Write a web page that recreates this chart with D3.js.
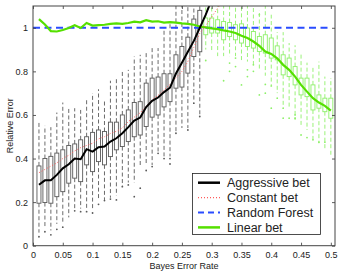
<!DOCTYPE html>
<html>
<head>
<meta charset="utf-8">
<script src="https://cdn.jsdelivr.net/npm/d3@7"></script>
<style>
body { margin:0; background:white; }
svg text { font-family:"Liberation Sans", Arial, sans-serif; fill:#222; }
</style>
</head>
<body>
<svg id="chart"></svg>
<script>
// x positions (Bayes error rate)
var rates = [0.01,0.02,0.03,0.04,0.05,0.06,0.07,0.08,0.09,0.10,
             0.11,0.12,0.13,0.14,0.15,0.16,0.17,0.18,0.19,0.20,
             0.21,0.22,0.23,0.24,0.25,0.26,0.27,0.28,0.29,0.30,
             0.31,0.32,0.33,0.34,0.35,0.36,0.37,0.38,0.39,0.40,
             0.41,0.42,0.43,0.44,0.45,0.46,0.47,0.48,0.49,0.50];

// series lines
var aggressive = [0.28,0.30,0.30,0.325,0.355,0.374,0.40,0.397,0.443,0.432,
                  0.452,0.455,0.478,0.493,0.516,0.544,0.574,0.588,0.636,0.665,
                  0.68,0.705,0.725,0.79,0.84,0.89,0.94,1.0,1.06,1.13];
var constant = [0.335,0.35,0.365,0.38,0.40,0.415,0.435,0.45,0.46,0.47,
                0.49,0.50,0.515,0.525,0.54,0.57,0.59,0.61,0.64,0.67,
                0.69,0.715,0.74,0.77,0.80,0.845,0.91,0.975,1.01,1.05,
                1.09,1.13];
var forestX = [0, 0.5];
var forestY = [1, 1];
var linear = [1.04,1.015,0.985,0.983,0.99,0.999,1.012,0.999,1.022,1.01,
              1.012,1.014,1.018,1.02,1.018,1.022,1.028,1.025,1.035,1.028,
              1.03,1.024,1.026,1.024,1.02,1.018,1.014,1.006,1.002,0.997,
              0.994,0.988,0.983,0.976,0.963,0.953,0.937,0.917,0.891,0.88,
              0.86,0.83,0.807,0.776,0.738,0.707,0.677,0.657,0.642,0.62];

// boxplots of the aggressive bet (0.01 - 0.28)
var aggQ1 = [0.195,0.198,0.195,0.225,0.248,0.287,0.31,0.294,0.371,0.34,
             0.386,0.371,0.409,0.44,0.455,0.478,0.50,0.508,0.547,0.59,
             0.60,0.637,0.661,0.723,0.728,0.792,0.868,0.89];
var aggQ3 = [0.366,0.40,0.41,0.425,0.44,0.46,0.467,0.486,0.50,0.52,
             0.531,0.524,0.567,0.567,0.60,0.623,0.657,0.661,0.746,0.769,
             0.774,0.789,0.789,0.876,0.914,0.957,1.04,1.08];
var aggLo = [0.06,0.08,0.07,0.10,0.10,0.13,0.17,0.17,0.17,0.17,
             0.21,0.21,0.22,0.23,0.27,0.29,0.29,0.36,0.37,0.37,
             0.43,0.41,0.41,0.52,0.54,0.54,0.66,0.60];
var aggHi = [0.573,0.55,0.544,0.611,0.657,0.639,0.631,0.623,0.677,0.70,
             0.718,0.672,0.757,0.764,0.802,0.807,0.868,0.876,0.884,0.91,
             0.907,1.0,1.02,1.12,1.12,1.12,1.12,1.12];
var aggOutX = [0.01,0.02,0.03,0.04,0.05,0.07,0.08,0.09,0.10,0.11,0.12,0.13,0.14,
               0.15,0.16,0.17,0.18,0.19,0.20,0.21,0.22,0.23,0.23,0.24,0.26,0.27,0.28];
var aggOutY = [0.041,0.064,0.05,0.075,0.085,0.16,0.156,0.156,0.15,0.19,0.207,0.214,0.21,
               0.271,0.279,0.225,0.264,0.345,0.363,0.424,0.40,0.40,0.375,0.516,0.531,0.654,0.593];

// boxplots of the linear bet (0.29 - 0.50)
var linQ1 = [0.968,0.976,0.976,0.945,0.96,0.945,0.93,0.914,0.907,0.891,0.884,
             0.861,0.853,0.784,0.776,0.738,0.692,0.684,0.623,0.631,0.615,0.585];
var linQ3 = [1.045,1.045,1.037,1.029,1.024,1.014,1.018,0.999,0.983,0.96,0.968,
             0.953,0.917,0.876,0.861,0.822,0.769,0.769,0.738,0.692,0.677,0.677];
var linLo = [0.90,0.89,0.87,0.87,0.87,0.87,0.85,0.845,0.82,0.807,0.78,
             0.738,0.70,0.638,0.63,0.577,0.554,0.531,0.486,0.47,0.44,0.409];
var linHi = [1.12,1.12,1.12,1.12,1.12,1.12,1.12,1.12,1.10,1.08,1.10,
             1.06,0.98,0.98,0.93,0.92,0.88,0.84,0.82,0.845,0.776,0.769];
var linOutX = [0.29,0.32,0.33,0.33,0.34,0.34,0.35,0.36,0.36,0.37,0.37,0.38,0.38,0.39,0.39,
               0.40,0.40,0.41,0.42,0.42,0.43,0.44,0.44,0.45,0.46,0.47,0.48,0.49];
var linOutY = [0.85,0.757,0.838,0.80,0.861,0.822,0.738,0.807,0.776,0.83,0.80,0.692,1.06,0.74,0.70,
               0.733,0.631,0.677,0.631,0.585,0.585,0.60,0.585,0.508,0.496,0.486,0.475,0.475];

var xTicks = [0,0.05,0.1,0.15,0.2,0.25,0.3,0.35,0.4,0.45,0.5];
var yTicks = [0,0.2,0.4,0.6,0.8,1];

var legendNames = ["Aggressive bet","Constant bet","Random Forest","Linear bet"];

var colors = {agg:"#000000", con:"#ff5a5a", rf:"#2a4cff", lin:"#55e000",
              aggBox:"#5a5a5a", linBox:"#8ef06a"};

var lengths = {
    screen:{width:341, height:273},
    left:33, right:335, top:6, bottom:245.7
};

var x = d3.scaleLinear()
        .domain([0,0.507])
        .range([lengths.left,lengths.right]);
var y = d3.scaleLinear()
        .domain([0,1.1])
        .range([lengths.bottom,lengths.top]);

var svg = d3.select("#chart")
    .attr("width", lengths.screen.width)
    .attr("height", lengths.screen.height);

svg.append("defs")
    .append("clipPath")
    .attr("id","plotclip")
    .append("rect")
    .attr("x", lengths.left)
    .attr("y", lengths.top)
    .attr("width", lengths.right-lengths.left)
    .attr("height", lengths.bottom-lengths.top);

var plot = svg.append("g").attr("clip-path","url(#plotclip)");

//draw one set of boxplots
var drawBoxes = function(xs, q1, q3, lo, hi, outX, outY, color, id)
{
    var g = plot.append("g").attr("id", id);
    var boxW = 4;

    g.selectAll("line.whiskTop")
        .data(xs)
        .enter()
        .append("line")
        .attr("x1", function(d){ return x(d) })
        .attr("x2", function(d){ return x(d) })
        .attr("y1", function(d,i){ return y(q3[i]) })
        .attr("y2", function(d,i){ return y(hi[i]) })
        .attr("stroke", color)
        .attr("stroke-width", 0.9)
        .attr("stroke-dasharray", "4,2.5");

    g.selectAll("line.whiskBot")
        .data(xs)
        .enter()
        .append("line")
        .attr("x1", function(d){ return x(d) })
        .attr("x2", function(d){ return x(d) })
        .attr("y1", function(d,i){ return y(q1[i]) })
        .attr("y2", function(d,i){ return y(lo[i]) })
        .attr("stroke", color)
        .attr("stroke-width", 0.9)
        .attr("stroke-dasharray", "4,2.5");

    g.selectAll("rect")
        .data(xs)
        .enter()
        .append("rect")
        .attr("x", function(d){ return x(d)-boxW/2 })
        .attr("y", function(d,i){ return y(q3[i]) })
        .attr("width", boxW)
        .attr("height", function(d,i){ return y(q1[i])-y(q3[i]) })
        .attr("fill", "none")
        .attr("stroke", color)
        .attr("stroke-width", 0.9);

    g.selectAll("circle")
        .data(outX)
        .enter()
        .append("circle")
        .attr("cx", function(d){ return x(d) })
        .attr("cy", function(d,i){ return y(outY[i]) })
        .attr("r", 0.9)
        .attr("fill", color);
};

drawBoxes(rates.slice(0,28), aggQ1, aggQ3, aggLo, aggHi, aggOutX, aggOutY, colors.aggBox, "aggBoxes");
drawBoxes(rates.slice(28), linQ1, linQ3, linLo, linHi, linOutX, linOutY, colors.linBox, "linBoxes");

var line = d3.line()
    .x(function(d){ return x(d[0]) })
    .y(function(d){ return y(d[1]) });

var zipUp = function(xs, ys)
{
    return ys.map(function(v,i){ return [xs[i], v] });
};

plot.append("path")
    .datum(zipUp(forestX, forestY))
    .attr("d", line)
    .attr("fill","none")
    .attr("stroke", colors.rf)
    .attr("stroke-width", 2)
    .attr("stroke-dasharray", "7,4.5");

plot.append("path")
    .datum(zipUp(rates, linear))
    .attr("d", line)
    .attr("fill","none")
    .attr("stroke", colors.lin)
    .attr("stroke-width", 2.2);

plot.append("path")
    .datum(zipUp(rates, constant))
    .attr("d", line)
    .attr("fill","none")
    .attr("stroke", colors.con)
    .attr("stroke-width", 1)
    .attr("stroke-dasharray", "1,2");

plot.append("path")
    .datum(zipUp(rates, aggressive))
    .attr("d", line)
    .attr("fill","none")
    .attr("stroke", colors.agg)
    .attr("stroke-width", 2);

//axes, matlab style with ticks inside on all sides
var axes = svg.append("g").classed("axis", true);

axes.append("g")
    .attr("transform","translate(0,"+lengths.bottom+")")
    .call(d3.axisBottom(x).tickValues(xTicks).tickSizeInner(-3).tickSizeOuter(0).tickPadding(6)
          .tickFormat(function(d){ return d3.format("")(+d.toFixed(2)) }));
axes.append("g")
    .attr("transform","translate(0,"+lengths.top+")")
    .call(d3.axisTop(x).tickValues(xTicks).tickSizeInner(-3).tickSizeOuter(0).tickFormat(""));
axes.append("g")
    .attr("transform","translate("+lengths.left+",0)")
    .call(d3.axisLeft(y).tickValues(yTicks).tickSizeInner(-3).tickSizeOuter(0).tickPadding(5)
          .tickFormat(function(d){ return d3.format("")(+d.toFixed(1)) }));
axes.append("g")
    .attr("transform","translate("+lengths.right+",0)")
    .call(d3.axisRight(y).tickValues(yTicks).tickSizeInner(-3).tickSizeOuter(0).tickFormat(""));

axes.selectAll("path.domain").remove();
axes.selectAll("line").attr("stroke","#333").attr("stroke-width",0.8);
axes.selectAll("text")
    .attr("font-size", 9)
    .attr("font-family", "Liberation Sans, Arial, sans-serif")
    .attr("fill", "#222");

axes.append("rect")
    .attr("x", lengths.left)
    .attr("y", lengths.top)
    .attr("width", lengths.right-lengths.left)
    .attr("height", lengths.bottom-lengths.top)
    .attr("fill","none")
    .attr("stroke","#444")
    .attr("stroke-width",1);

//labels
svg.append("text")
    .text("Bayes Error Rate")
    .attr("x", (lengths.left+lengths.right)/2)
    .attr("y", 269)
    .attr("text-anchor","middle")
    .attr("font-size", 9);

svg.append("text")
    .text("Relative Error")
    .attr("transform","translate(12.5,"+((lengths.top+lengths.bottom)/2)+") rotate(-90)")
    .attr("text-anchor","middle")
    .attr("font-size", 9);

//legend
var legend = svg.append("g").attr("id","legend");
legend.append("rect")
    .attr("x",192.5).attr("y",173.5)
    .attr("width",128).attr("height",61)
    .attr("fill","white")
    .attr("stroke","#222")
    .attr("stroke-width",0.8);

var legendStyles = [
    {c:colors.agg, w:2.5, dash:null},
    {c:colors.con, w:1.2, dash:"1,2"},
    {c:colors.rf, w:2, dash:"6,4"},
    {c:colors.lin, w:2.5, dash:null}
];

var rows = legend.selectAll("g.row")
    .data(legendNames)
    .enter()
    .append("g")
    .attr("transform", function(d,i){ return "translate(0,"+(182.7+i*14.9)+")" });

rows.append("line")
    .attr("x1",198).attr("x2",220)
    .attr("stroke", function(d,i){ return legendStyles[i].c })
    .attr("stroke-width", function(d,i){ return legendStyles[i].w })
    .attr("stroke-dasharray", function(d,i){ return legendStyles[i].dash });

rows.append("text")
    .text(function(d){ return d })
    .attr("x",227)
    .attr("y",4.4)
    .attr("font-size",12.5);
</script>
</body>
</html>
